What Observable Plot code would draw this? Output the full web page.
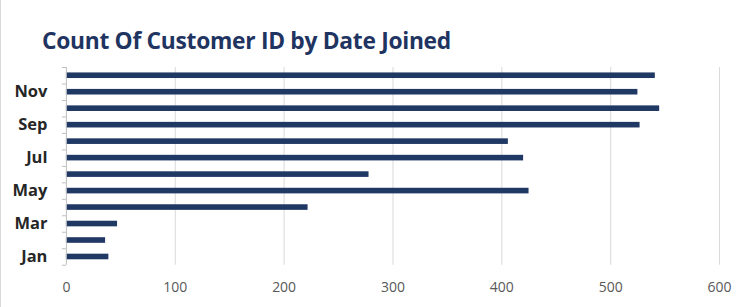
<!DOCTYPE html>
<html>
<head>
<meta charset="utf-8">
<script src="https://cdn.jsdelivr.net/npm/d3@7"></script>
<script src="https://cdn.jsdelivr.net/npm/@observablehq/plot@0.6"></script>
<style>
  html, body { margin: 0; padding: 0; background: #fff; }
  #wrap { width: 748px; height: 307px; box-sizing: border-box; border-left: 1px solid #d9d9d9; position: relative; overflow: hidden; }
  #title { height: 62px; box-sizing: border-box; padding: 27px 0 0 41px; font-family: "Open Sans", sans-serif; font-weight: 700; font-size: 22.8px; color: #1f3461; line-height: 28px; letter-spacing: -0.3px; }
  svg { display: block; }
</style>
</head>
<body>
<div id="wrap">
  <div id="title">Count Of Customer ID by Date Joined</div>
  <div id="chart"></div>
</div>
<script>
const months = ["Jan","Feb","Mar","Apr","May","Jun","Jul","Aug","Sep","Oct","Nov","Dec"];
const counts = [39, 36, 47, 222, 425, 278, 420, 406, 527, 545, 525, 541];
const shownLabels = ["Jan","Mar","May","Jul","Sep","Nov"];
const xTicks = [0, 100, 200, 300, 400, 500, 600];

const data = months.map((m, i) => ({month: m, idx: i, count: counts[i]}));
const labelData = data.filter(d => shownLabels.includes(d.month));
const boundaries = d3.range(0, months.length + 1);

const chart = Plot.plot({
  width: 748,
  height: 245,
  marginTop: 5,
  marginBottom: 42,
  marginLeft: 65,
  marginRight: 29,
  style: {fontFamily: "'Open Sans', sans-serif", background: "#fff"},
  x: {type: "linear", domain: [0, 600], axis: null},
  y: {type: "linear", domain: [0, 12], axis: null},
  marks: [
    Plot.ruleX(xTicks.filter(t => t > 0), {stroke: "#d9d9d9", strokeWidth: 1}),
    Plot.rectX(data, {x1: 0, x2: "count", y1: d => d.idx + 0.33, y2: d => d.idx + 0.67, fill: "#203864"}),
    Plot.ruleX([0], {stroke: "#bfbfbf", strokeWidth: 1}),
    Plot.axisY({ticks: boundaries, tickSize: 4, tickFormat: () => "", stroke: "#bfbfbf", label: null}),
    Plot.text(labelData, {x: 0, y: d => d.idx + 0.5, text: "month", textAnchor: "end", dx: -19, fontSize: 16.5, fontWeight: 700, fill: "#262626"}),
    Plot.text(xTicks, {x: d => d, y: 0, text: d => String(d), dy: 22, fontSize: 14, fill: "#595959", fontFamily: "'Liberation Sans Narrow', 'Open Sans', sans-serif"})
  ]
});
document.getElementById("chart").appendChild(chart);
</script>
</body>
</html>
